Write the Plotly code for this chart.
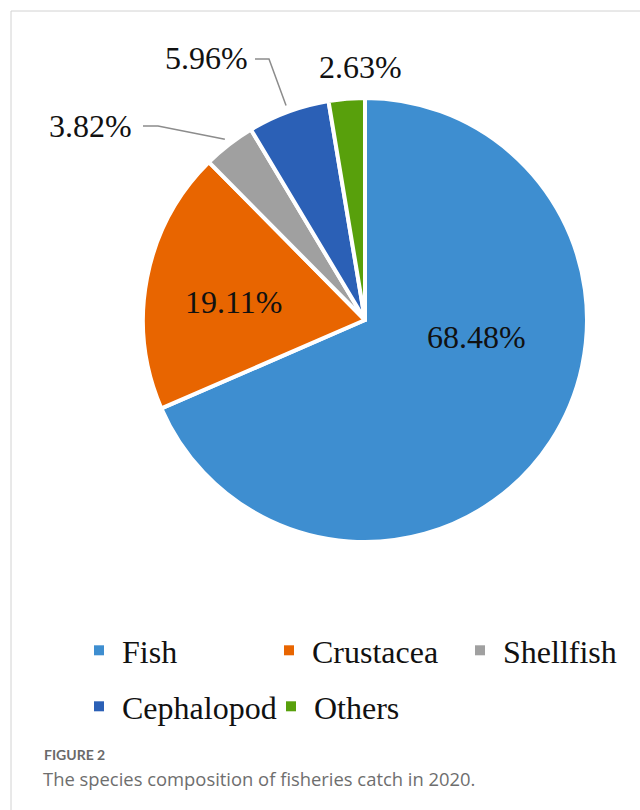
import math
import plotly.graph_objects as go

# Species composition of the 2020 fisheries catch (percent of total)
species = ["Fish", "Crustacea", "Shellfish", "Cephalopod", "Others"]
shares = [68.48, 19.11, 3.82, 5.96, 2.63]
colors = ["#3E8ED0", "#E86500", "#A0A0A0", "#2B60B6", "#58A00C"]

W, H = 640, 810
CX, CY, R = 365, 320, 222          # pie centre and radius in pixels


def px(x):
    return x / W


def py(y):
    return 1 - y / H


fig = go.Figure()

fig.add_trace(go.Pie(
    labels=species,
    values=shares,
    sort=False,
    direction="clockwise",
    rotation=0,
    marker=dict(colors=colors, line=dict(color="white", width=4)),
    textinfo="none",
    hoverinfo="label+percent",
    showlegend=False,
    domain=dict(x=[px(CX - R), px(CX + R)], y=[py(CY + R), py(CY - R)]),
))

# one legend box per entry, laid out in a 3 + 2 grid (symbol centre x, row top y)
legend_slots = [(99, 623), (289, 623), (480, 623), (99, 679), (291, 679)]
legend_ids = ["legend"] + [f"legend{i}" for i in range(2, len(species) + 1)]
for name, col, lg in zip(species, colors, legend_ids):
    fig.add_trace(go.Scatter(
        x=[None], y=[None], mode="markers", name=name,
        marker=dict(symbol="square", size=10, color=col),
        legend=lg, hoverinfo="skip",
    ))

# percentage labels: (x, y) pixel positions of each label
label_pos = {
    "Fish": (476, 337),
    "Crustacea": (233, 302),
    "Shellfish": (90, 126),
    "Cephalopod": (206, 58),
    "Others": (360, 67),
}
serif = "Liberation Serif, Times New Roman, serif"
annotations = []
for name, val in zip(species, shares):
    x, y = label_pos[name]
    annotations.append(dict(
        x=px(x), y=py(y), xref="paper", yref="paper",
        text=f"{val:.2f}%", showarrow=False,
        font=dict(family=serif, size=32, color="#111111"),
        xanchor="center", yanchor="middle",
    ))

# leader lines for the two small outside labels: label end -> elbow -> slice rim
leader_start = {"Shellfish": (143, 126, 158), "Cephalopod": (255, 59, 269)}
shapes = []
cum = 0.0
total = sum(shares)
for name, val in zip(species, shares):
    mid = (cum + val / 2) / total * 2 * math.pi
    cum += val
    if name not in leader_start:
        continue
    x0, y0, xe = leader_start[name]
    tx = CX + 1.03 * R * math.sin(mid)
    ty = CY - 1.03 * R * math.cos(mid)
    path = f"M{px(x0)},{py(y0)} L{px(xe)},{py(y0)} L{px(tx)},{py(ty)}"
    shapes.append(dict(type="path", path=path, xref="paper", yref="paper",
                       line=dict(color="#8C8C8C", width=1.5)))

# panel frame (top and left edges)
frame = "#D2D2D2"
shapes.append(dict(type="line", xref="paper", yref="paper",
                   x0=px(11), y0=py(11), x1=1.02, y1=py(11),
                   line=dict(color=frame, width=1)))
shapes.append(dict(type="line", xref="paper", yref="paper",
                   x0=px(11), y0=py(11), x1=px(11), y1=-0.02,
                   line=dict(color=frame, width=1)))

# figure caption
annotations.append(dict(
    x=px(42), y=py(754), xref="paper", yref="paper", text="<b>FIGURE 2</b>",
    showarrow=False, xanchor="left", yanchor="middle",
    font=dict(family="Lato, Noto Sans, sans-serif", size=14, color="#6A6A6A"),
))
annotations.append(dict(
    x=px(41), y=py(778), xref="paper", yref="paper",
    text="The species composition of fisheries catch in 2020.",
    showarrow=False, xanchor="left", yanchor="middle",
    font=dict(family="Open Sans, Noto Sans, sans-serif", size=18.4,
              color="#6E6E6E"),
))

# symbol sits at itemwidth/2 + 5 from the box edge, text at itemwidth + 10
ITEM_W = 36
legend_style = dict(
    orientation="h", xanchor="left", yanchor="top", itemwidth=ITEM_W,
    font=dict(family=serif, size=32, color="#111111"),
    bgcolor="rgba(0,0,0,0)", itemclick=False, itemdoubleclick=False,
)
legend_layout = {
    lg: dict(x=px(sx - ITEM_W / 2 - 5), y=py(sy), **legend_style)
    for lg, (sx, sy) in zip(legend_ids, legend_slots)
}

fig.update_layout(
    width=W, height=H,
    margin=dict(l=0, r=0, t=0, b=0),
    paper_bgcolor="white", plot_bgcolor="white",
    xaxis=dict(visible=False), yaxis=dict(visible=False),
    annotations=annotations,
    shapes=shapes,
    **legend_layout,
)

fig.write_html("out.html")
